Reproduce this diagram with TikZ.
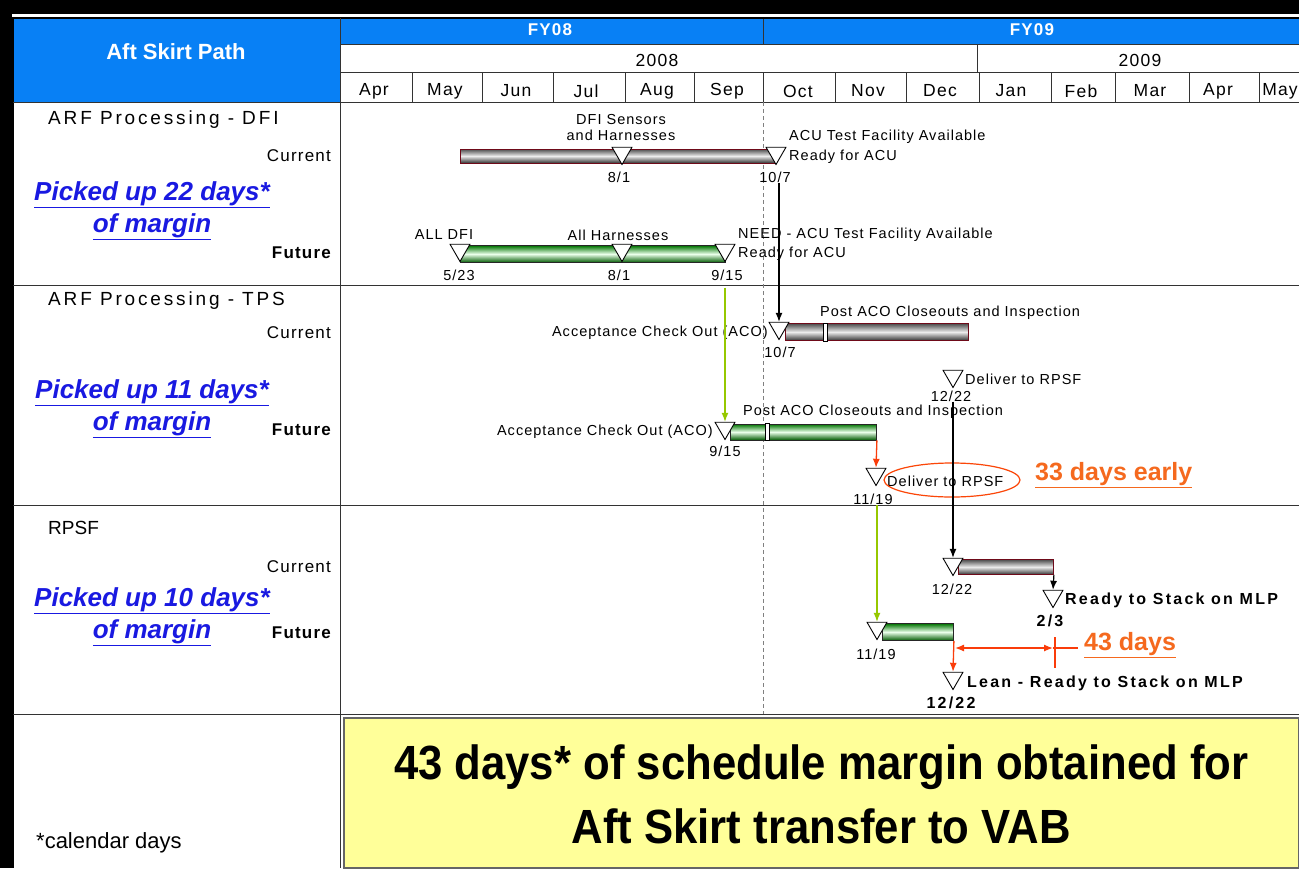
\documentclass[tikz,border=0pt]{standalone}
\usepackage{fontspec}
\setmainfont{Liberation Sans}
\newfontfamily\gfont[LetterSpace=7]{Liberation Sans}
\newfontfamily\hfont[LetterSpace=15]{Liberation Sans}
\newfontfamily\bfont[LetterSpace=14]{Liberation Sans}
\usetikzlibrary{shapes.geometric,arrows.meta,calc}
\definecolor{hblue}{RGB}{8,128,245}
\definecolor{lgreen}{RGB}{150,200,0}
\definecolor{rarrow}{RGB}{250,60,10}
\definecolor{orng}{RGB}{245,105,30}
\definecolor{linkblue}{RGB}{25,25,225}
\definecolor{yel}{RGB}{255,255,153}
\definecolor{dred}{RGB}{110,10,25}
\begin{document}
\begin{tikzpicture}[x=1pt,y=-1pt,
  grid/.style={draw=black!80,line width=1pt},
  lbl/.style={inner sep=0pt,font=\gfont\fontsize{14.5}{16}\selectfont},
  blbl/.style={inner sep=0pt,font=\bfont\bfseries\fontsize{16}{18}\selectfont},
  month/.style={inner sep=0pt,font=\gfont\fontsize{17.5}{19}\selectfont},
  rowhead/.style={inner sep=0pt,anchor=west,font=\hfont\fontsize{19}{21}\selectfont},
  cur/.style={inner sep=0pt,anchor=east,font=\gfont\fontsize{17}{19}\selectfont},
  fut/.style={inner sep=0pt,anchor=east,font=\gfont\bfseries\fontsize{17}{19}\selectfont},
  pick/.style={inner sep=0pt,text=linkblue,align=center,font=\bfseries\itshape\fontsize{26}{32}\selectfont},
  ms/.style={draw=black,fill=white,regular polygon,regular polygon sides=3,shape border rotate=180,minimum size=23pt,inner sep=0pt,line width=0.9pt},
  gbar/.style={draw=dred,line width=0.9pt,top color=black!70,bottom color=black!80,middle color=white!85!gray,inner sep=0pt,anchor=west},
  fbar/.style={draw=black!85,line width=0.9pt,top color=green!45!black,bottom color=green!35!black,middle color=green!8!white,inner sep=0pt,anchor=west},
  tick/.style={draw=black,fill=white,line width=0.7pt},
  larrow/.style={draw=lgreen,line width=1.2pt,-{Latex[length=9pt,width=7pt]}},
  karrow/.style={draw=black,line width=1.2pt,-{Latex[length=9pt,width=7pt]}},
  rarr/.style={draw=rarrow,line width=1.3pt,-{Latex[length=9pt,width=7pt]}},
  big/.style={inner sep=0pt,font=\bfseries\fontsize{48}{52}\selectfont},
  orn/.style={inner sep=0pt,anchor=west,text=orng,font=\bfseries\fontsize{25}{28}\selectfont}
]
\useasboundingbox (0,0) rectangle (1299,868);
% background and table
\fill[black] (0,0) rectangle (1299,868);
\fill[white] (12,14) rectangle (1299,868);
\fill[hblue] (13,19) rectangle (340,102);
\fill[hblue] (340,19) rectangle (1299,44);
\draw[black,line width=2pt] (12,18) -- (1299,18);
\draw[black,line width=2pt] (13,18) -- (13,868);
\draw[grid] (340,18) -- (340,868);
\draw[grid] (763,19) -- (763,44);
\draw[grid] (340,44) -- (1299,44);
\draw[grid] (340,72) -- (1299,72);
\draw[grid] (977,44) -- (977,72);
\foreach \x in {412,482,553,625,694,763,835,906,979,1051,1115,1189,1259} \draw[grid] (\x,72) -- (\x,102);
\draw[grid] (13,102) -- (1299,102);
\draw[grid] (13,285) -- (1299,285);
\draw[grid] (13,505) -- (1299,505);
\draw[grid] (13,714) -- (1299,714);
\draw[gray,dashed,line width=0.8pt,dash pattern=on 4pt off 3pt] (763,102) -- (763,714);
\node[draw=black!60,line width=1.5pt,fill=yel,minimum width=955pt,minimum height=150pt,inner sep=0pt,anchor=north west] (box) at (343,717) {};

% header text
\node[inner sep=0pt,text=white,font=\bfseries\fontsize{22}{24}\selectfont] (hd) at (176,52) {Aft Skirt Path};
\node[inner sep=0pt,text=white,font=\gfont\bfseries\fontsize{17}{19}\selectfont] (fy8) at (550,30) {FY08};
\node[inner sep=0pt,text=white,font=\gfont\bfseries\fontsize{17}{19}\selectfont] (fy9) at (1032,30) {FY09};
\node[month] (y8) at (657,60) {2008};
\node[month] (y9) at (1140,60) {2009};
\foreach \m/\x [count=\i] in {Apr/374,May/445,Jun/516,Jul/586,Aug/657,Sep/727,Oct/798,Nov/868,Dec/940,Jan/1011,Feb/1081,Mar/1150,Apr/1218,May/1280}
  \node[month] (mo\i) at (\x,91) {\m};

% left column
\node[rowhead] (r1) at (48,120) {ARF Processing - DFI};
\node[cur] (c1) at (331,156) {Current};
\node[pick] (p1) at (152,211) {\underline{Picked up 22 days*}\\\underline{of margin}};
\node[fut] (f1t) at (331,253) {Future};
\node[rowhead] (r2) at (48,301) {ARF Processing - TPS};
\node[cur] (c2) at (331,333) {Current};
\node[pick] (p2) at (152,409) {\underline{Picked up 11 days*}\\\underline{of margin}};
\node[fut] (f2t) at (331,430) {Future};
\node[rowhead,font=\fontsize{19}{21}\selectfont] (r3) at (48,528) {RPSF};
\node[cur] (c3) at (331,567) {Current};
\node[pick] (p3) at (152,617) {\underline{Picked up 10 days*}\\\underline{of margin}};
\node[fut] (f3t) at (331,633) {Future};
\node[inner sep=0pt,anchor=west,font=\fontsize{22}{24}\selectfont] (cal) at (36,843) {*calendar days};

% bottom message
\node[big,align=center,xscale=0.91] (msg) at ($(box.center)+(0,2)$) {43 days* of schedule margin obtained for\\[12pt]Aft Skirt transfer to VAB};

% ---- row 1 current
\node[gbar,minimum width=316pt,minimum height=14pt] (b1) at (460,156) {};
\node[ms] (m11) at (622,153) {};
\node[ms] (m12) at (776,153) {};
\node[lbl,align=center] (l11) at (621,128) {DFI Sensors\\and Harnesses};
\node[lbl] (d11) at (619,177) {8/1};
\node[lbl] (d12) at (775,177) {10/7};
\node[lbl,anchor=west] (l12) at (789,137) {ACU Test Facility Available};
\node[lbl,anchor=west] (l13) at (789,157) {Ready for ACU};
% ---- row 1 future
\node[fbar,minimum width=265pt,minimum height=17pt] (fb1) at (460,254) {};
\node[ms] (m13) at (460,250) {};
\node[ms] (m14) at (622,250) {};
\node[ms] (m15) at (725,250) {};
\node[lbl] (l14) at (444,235) {ALL DFI};
\node[lbl] (l15) at (618,235) {All Harnesses};
\node[lbl,anchor=west] (l16) at (738,235) {NEED - ACU Test Facility Available};
\node[lbl,anchor=west] (l17) at (738,254) {Ready for ACU};
\node[lbl] (d13) at (459,275) {5/23};
\node[lbl] (d14) at (619,275) {8/1};
\node[lbl] (d15) at (727,275) {9/15};

% ---- row 2 current
\node[gbar,minimum width=183pt,minimum height=17pt] (b2) at (785,332) {};
\draw[tick] (823,323) rectangle (827,341);
\node[ms] (m21) at (779,328) {};
\node[lbl,anchor=east] (l21) at (768,333) {Acceptance Check Out (ACO)};
\node[lbl] (d21) at (780,352) {10/7};
\node[lbl,anchor=west] (l22) at (820,313) {Post ACO Closeouts and Inspection};
\node[ms] (m22) at (953,376) {};
\node[lbl,anchor=west] (l23) at (965,379) {Deliver to RPSF};
\node[lbl] (d22) at (951,396) {12/22};
% ---- row 2 future
\node[fbar,minimum width=146pt,minimum height=16pt] (fb2) at (730,432) {};
\draw[tick] (765,423) rectangle (769,440);
\node[ms] (m23) at (725,428) {};
\node[lbl,anchor=east] (l24) at (713,432) {Acceptance Check Out (ACO)};
\node[lbl] (d23) at (725,451) {9/15};
\node[lbl,anchor=west] (l25) at (743,412) {Post ACO Closeouts and Inspection};
\node[ms] (m24) at (876,474) {};
\node[lbl,anchor=west] (l26) at (887,481) {Deliver to RPSF};
\node[lbl] (d24) at (873,499) {11/19};
\node[draw=rarrow!85!orange,line width=1.2pt,ellipse,minimum width=136pt,minimum height=34pt,inner sep=0pt] (el) at (952,480) {};
\node[orn] (o1) at (1035,475) {\underline{33 days early}};

% ---- row 3 current
\node[gbar,minimum width=95pt,minimum height=15pt] (b3) at (958,567) {};
\node[ms] (m31) at (953,564) {};
\node[lbl] (d31) at (952,589) {12/22};
\node[ms] (m32) at (1053,596) {};
\node[blbl,anchor=west] (l31) at (1065,600) {Ready to Stack on MLP};
\node[blbl] (d32) at (1050,621) {2/3};
% ---- row 3 future
\node[fbar,minimum width=71pt,minimum height=17pt] (fb3) at (882,632) {};
\node[ms] (m33) at (877,628) {};
\node[lbl] (d33) at (876,654) {11/19};
\node[ms] (m34) at (953,678) {};
\node[blbl,anchor=west] (l32) at (967,683) {Lean - Ready to Stack on MLP};
\node[blbl] (d34) at (951,703) {12/22};
\coordinate (ha) at (955,648);
\coordinate (hb) at (1053,648);
\draw[draw=rarrow,line width=1.3pt,{Latex[length=9pt,width=7pt]}-{Latex[length=9pt,width=7pt]}] (ha) -- (hb);
\draw[draw=rarrow,line width=1.3pt] (hb) -- (1078,648);
\draw[draw=rarrow,line width=1.3pt] (1055,637) -- (1055,668);
\node[orn] (o2) at (1084,645) {\underline{43 days}};

% connectors
\draw[karrow] (m21.north |- d12.south) -- (m21.north);
\draw[larrow] (m23.north |- d15.south) ++(0,7) -- (m23.north);
\draw[karrow] (d22.south -| m31.north) -- (m31.north);
\draw[rarr] (fb2.south east) -- (m24.north);
\draw[larrow] (m33.north |- d24.south) -- (m33.north);
\draw[karrow] (b3.south east) -- (m32.north);
\draw[rarr] (fb3.south east) -- (m34.north);
\end{tikzpicture}
\end{document}
